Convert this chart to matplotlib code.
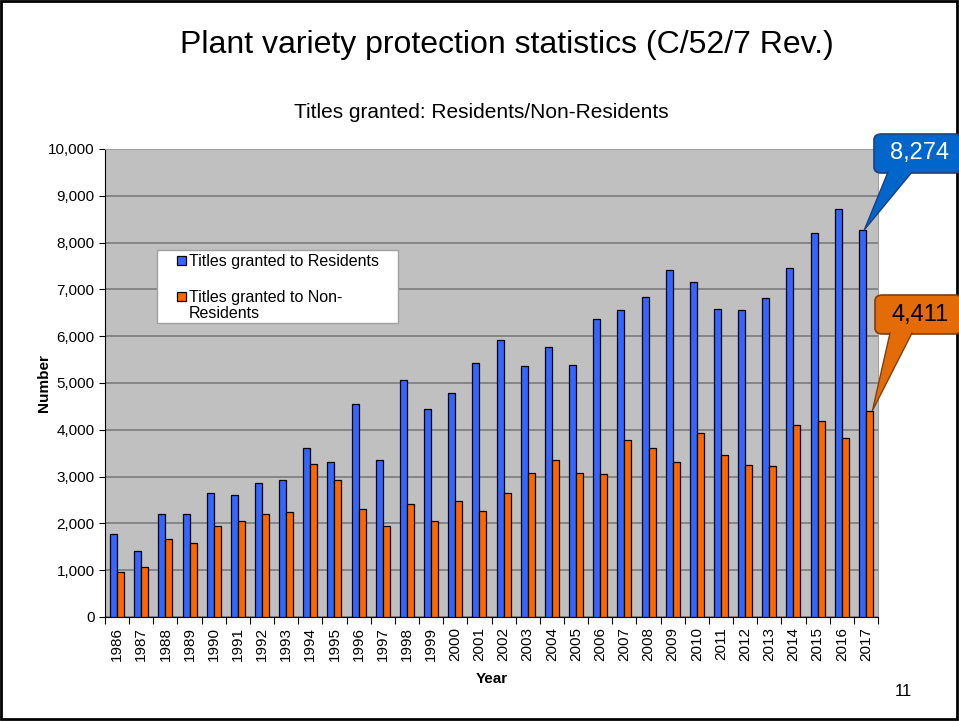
import numpy as np
import matplotlib.pyplot as plt
from matplotlib.patches import FancyBboxPatch, Polygon, Rectangle

plt.rcParams['font.family'] = ['Liberation Sans', 'DejaVu Sans']

# data
years = [str(y) for y in range(1986, 2018)]
residents = [1773, 1410, 2200, 2200, 2650, 2607, 2863, 2927, 3611, 3312,
             4551, 3355, 5064, 4444, 4786, 5427, 5919, 5363, 5769, 5385,
             6368, 6560, 6838, 7415, 7158, 6581, 6560, 6816, 7457, 8205,
             8718, 8274]
non_residents = [961, 1068, 1667, 1581, 1944, 2051, 2201, 2236, 3269, 2927,
                 2308, 1944, 2414, 2051, 2479, 2265, 2650, 3077, 3355, 3077,
                 3056, 3782, 3611, 3312, 3932, 3462, 3248, 3226, 4103, 4188,
                 3825, 4411]
yticks = list(range(0, 10001, 1000))
series_names = ['Titles granted to Residents', 'Titles granted to Non-\nResidents']

blue = '#3366FF'
orange = '#FF6600'
W, H = 959, 721

fig = plt.figure(figsize=(9.59, 7.21), dpi=100)
ax = fig.add_axes([105/W, 1-617/H, (878-105)/W, (617-149)/H])

x = np.arange(len(years))
w = 0.29
ax.bar(x - w/2, residents, w, color=blue, edgecolor='black', linewidth=0.9, zorder=3)
ax.bar(x + w/2, non_residents, w, color=orange, edgecolor='black', linewidth=0.9, zorder=3)

ax.set_facecolor('#C0C0C0')
ax.set_xlim(-0.5, len(years) - 0.5)
ax.set_ylim(0, 10000)
ax.set_yticks(yticks)
ax.set_yticklabels([f'{v:,}' for v in yticks], fontsize=11)
ax.yaxis.grid(True, color='#808080', linewidth=1.3, zorder=0)
ax.set_axisbelow(True)

# ticks at category boundaries, labels at centres
ax.set_xticks(np.arange(len(years) + 1) - 0.5)
ax.set_xticklabels([])
ax.set_xticks(x, minor=True)
ax.set_xticklabels(years, minor=True, rotation=90, fontsize=11)
ax.tick_params(axis='x', which='minor', length=0, pad=7)
ax.tick_params(axis='x', which='major', length=5, direction='out')
ax.tick_params(axis='y', length=4, direction='out')

for s in ['top', 'right']:
    ax.spines[s].set_color('#A0A0A0')
for s in ['left', 'bottom']:
    ax.spines[s].set_color('black')

ax.set_xlabel('Year', fontsize=11, fontweight='bold', labelpad=8)
ax.set_ylabel('Number', fontsize=11, fontweight='bold', labelpad=-2)

# legend box drawn by hand (handle sits on the first line of a wrapped label)
fig.patches.append(Rectangle((157/W, 1-323/H), 241/W, 73/H, transform=fig.transFigure,
                             facecolor='white', edgecolor='#A0A0A0', linewidth=1.0,
                             zorder=4))
for col, name, yc in [(blue, series_names[0], 260), (orange, series_names[1], 296)]:
    fig.patches.append(Rectangle((177/W, 1-(yc+4.5)/H), 9/W, 9/H,
                                 transform=fig.transFigure, facecolor=col,
                                 edgecolor='black', linewidth=0.9, zorder=5))
    fig.text(189/W, 1-(yc-6)/H, name, fontsize=11.5, ha='left', va='top',
             linespacing=1.05, zorder=5)

fig.text(507/W, 1-45/H, 'Plant variety protection statistics (C/52/7 Rev.)',
         ha='center', va='center', fontsize=23)
fig.text(481/W, 1-113/H, 'Titles granted: Residents/Non-Residents',
         ha='center', va='center', fontsize=15)
fig.text(903/W, 1-691/H, '11', ha='center', va='center', fontsize=12)

# slide border
fig.patches.append(Rectangle((0.001, 0.003), 0.997, 0.995, transform=fig.transFigure,
                             fill=False, edgecolor='black', linewidth=2))


def callout(label, value, xoff, box, face, edge, tcolor, base):
    # box in pixel coords (x0, y0_top, x1, y1_bottom)
    x0, yt, x1, yb = box
    tip = ax.transData.transform((len(years) - 1 + xoff, value))
    tip = fig.transFigure.inverted().transform(tip)
    rect = FancyBboxPatch((x0/W, 1-yb/H), (x1-x0)/W, (yb-yt)/H,
                          boxstyle='round,pad=0,rounding_size=0.008',
                          transform=fig.transFigure, facecolor=face,
                          edgecolor=edge, linewidth=1.2, zorder=5)
    fig.patches.append(rect)
    b0 = (base[0]/W, 1-(yb-1)/H)
    b1 = (base[1]/W, 1-(yb-1)/H)
    tail = Polygon([b0, tuple(tip), b1], closed=True, transform=fig.transFigure,
                   facecolor=face, edgecolor='none', zorder=6)
    fig.patches.append(tail)
    fig.lines.append(plt.Line2D([b0[0], tip[0], b1[0]], [b0[1], tip[1], b1[1]],
                                transform=fig.transFigure, color=edge,
                                linewidth=1.0, zorder=7))
    fig.text((x0+x1)/2/W + 0.002, 1-(yt+yb)/2/H, label, color=tcolor,
             fontsize=17, ha='center', va='center', zorder=8)


callout('8,274', residents[-1], -w/2 + 0.08, (874, 134, 962, 173),
        '#0066CC', '#1F3F7F', 'white', (888, 912))
callout('4,411', non_residents[-1], w - 0.02, (875, 295, 962, 334),
        '#E36C09', '#7F3F10', 'black', (890, 912))

fig.savefig('out.png', dpi=100)
